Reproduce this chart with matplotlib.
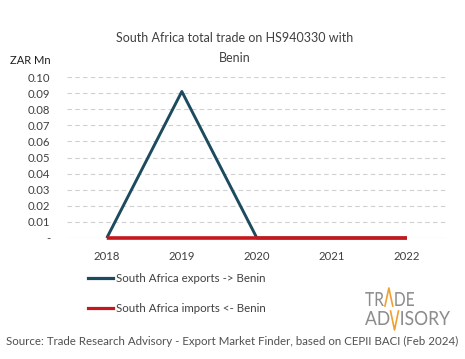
import matplotlib
matplotlib.use("Agg")
import matplotlib.pyplot as plt
from matplotlib.lines import Line2D
from matplotlib.textpath import TextPath
from matplotlib.patches import PathPatch
from matplotlib.font_manager import FontProperties
from matplotlib.transforms import Affine2D, IdentityTransform

years = ["2018", "2019", "2020", "2021", "2022"]
exports = [0.0, 0.091, 0.0, 0.0, 0.0]
imports = [0.0, 0.0, 0.0, 0.0, 0.0]
yticks = [0.0, 0.01, 0.02, 0.03, 0.04, 0.05, 0.06, 0.07, 0.08, 0.09, 0.10]
ytick_labels = ["-", "0.01", "0.02", "0.03", "0.04", "0.05", "0.06", "0.07", "0.08", "0.09", "0.10"]

plt.rcParams['font.family'] = ['Lato', 'DejaVu Sans']
W, H = 465, 359
fig = plt.figure(figsize=(W/100, H/100), dpi=100)
ax = fig.add_axes([67/W, 1-238/H, (446-67)/W, (238-77)/H])

x = list(range(len(years)))
exp_c = "#1c4a5e"
imp_c = "#c8161d"
ax.plot(x, exports, color=exp_c, lw=2.1, solid_capstyle='butt', zorder=3, clip_on=False, snap=False)
ax.plot(x, imports, color=imp_c, lw=2.6, solid_capstyle='butt', zorder=4, clip_on=False, snap=False)

ax.set_xlim(-0.53, 4.52)
ax.set_ylim(0, 0.10)
ax.set_yticks(yticks)
ax.set_yticklabels(ytick_labels)
ax.set_xticks(x)
ax.set_xticklabels(years)
for y in yticks[1:]:
    ax.axhline(y, color="#d0d0d0", lw=0.8, ls=(0, (4, 3)), zorder=1)
ax.axhline(0, color="#d0d0d0", lw=0.8, zorder=1)
for s in ax.spines.values():
    s.set_visible(False)
ax.tick_params(length=0, labelsize=8.2, colors="#404040")
ax.tick_params(axis='x', pad=9)
ax.tick_params(axis='y', pad=12)

fig.text(235/W, 1-38/H, "South Africa total trade on HS940330 with", ha='center', va='center', fontsize=9, color="#404040")
fig.text(235/W, 1-58/H, "Benin", ha='center', va='center', fontsize=9, color="#404040")
fig.text(10/W, 1-60/H, "ZAR Mn", ha='left', va='center', fontsize=8, color="#202020")

# legend
for yy, c, lab in [(278, exp_c, "South Africa exports -> Benin"), (308, imp_c, "South Africa imports <- Benin")]:
    fig.add_artist(Line2D([88/W, 113/W], [1-yy/H, 1-yy/H], color=c, lw=2.3, transform=fig.transFigure))
    fig.text(116/W, 1-yy/H, lab, ha='left', va='center', fontsize=8.25, color="#404040")

# logo
grey = "#8c8c8c"
orange = "#f0a030"
prop = FontProperties(family='Lato', weight='normal')

def word(parts, x0, x1, base_py, cap_px, special_w=0.5):
    size = cap_px / 0.72
    items = []
    total = 0.0
    gap = size * 0.07
    for p in parts:
        if p in ('^', 'v'):
            w = size * special_w
            items.append((p, None, w))
        else:
            tp = TextPath((0, 0), p, size=size, prop=prop)
            ext = tp.get_extents()
            w = ext.x1 - min(ext.x0, 0)
            items.append((p, tp, w))
        total += w + gap
    total -= gap
    sx = (x1 - x0) / total
    cx = x0
    base = H - base_py
    for p, tp, w in items:
        if tp is not None:
            tr = Affine2D().scale(sx, 1).translate(cx, base)
            fig.add_artist(PathPatch(tp, transform=tr + IdentityTransform(), fc=grey, ec='none'))
        else:
            ww = w * sx
            if p == '^':
                xs = [cx, cx + ww/2, cx + ww]
                ys = [base, base + cap_px + 4, base]
            else:
                xs = [cx, cx + ww/2, cx + ww]
                ys = [base + cap_px, base - 5, base + cap_px]
            fig.add_artist(Line2D(xs, ys, color=orange, lw=1.2, transform=IdentityTransform()))
        cx += (w + gap) * sx

word(["TR", "^", "DE"], 365, 414, 306, 14)
word(["AD", "v", "ISORY"], 365, 450, 325, 14, special_w=0.45)

fig.text(232/W, 1-341/H, "Source: Trade Research Advisory - Export Market Finder, based on CEPII BACI (Feb 2024)",
         ha='center', va='center', fontsize=8.3, color="#505050")

fig.savefig("out.png", dpi=100, facecolor='white')
